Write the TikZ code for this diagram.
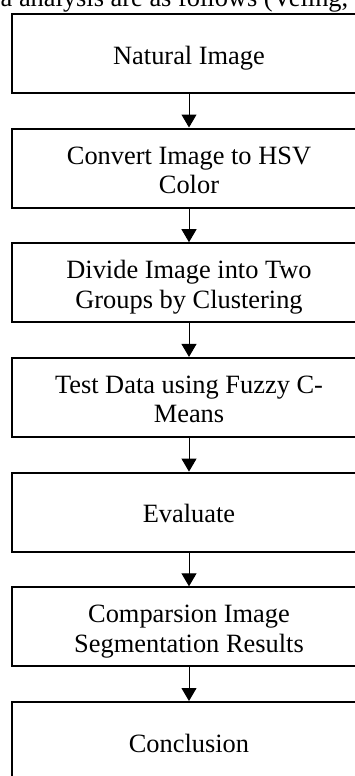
\documentclass[tikz,border=0pt]{standalone}
\usepackage{fontspec}
\setmainfont{Liberation Serif}
\usetikzlibrary{arrows.meta}
\newcommand{\twolines}[2]{\begin{tabular}[t]{@{}c@{}}#1\\#2\end{tabular}}
\begin{document}
\begin{tikzpicture}[x=1pt,y=-1pt,
  stepbox/.style={draw=black, line width=2pt, rectangle, minimum width=355pt,
    minimum height=79pt, inner sep=0pt,
    font=\fontsize{26.4}{29.5}\selectfont},
  oneline/.style={stepbox, text height=21.4pt, text depth=0pt},
  twoline/.style={stepbox, text height=0pt, text depth=8pt},
  flow/.style={draw=black, line width=1pt, -{Triangle[width=15pt,length=13pt]}},
  hdrtext/.style={anchor=base west, inner sep=0pt, font=\fontsize{26.4}{29.5}\selectfont}]
\useasboundingbox (0,0) rectangle (355,776);
\clip (0,0) rectangle (355,776);
\fill[white] (0,0) rectangle (355,776);
\node[hdrtext] (hdr) at (0.5,7) {a analysis are as follows (Veling,};
\node[oneline] (n1) at (189,53.3) {Natural Image};
\node[twoline] (n2) at (189,168) {\twolines{Convert Image to HSV}{Color}};
\node[twoline] (n3) at (189,282.7) {\twolines{Divide Image into Two}{Groups by Clustering}};
\node[twoline] (n4) at (189,397.4) {\twolines{Test Data using Fuzzy C-}{Means}};
\node[oneline] (n5) at (189,512.1) {Evaluate};
\node[twoline] (n6) at (189,626.8) {\twolines{Comparsion Image}{Segmentation Results}};
\node[oneline] (n7) at (189,741.5) {Conclusion};
\draw[flow] (n1) -- (n2);
\draw[flow] (n2) -- (n3);
\draw[flow] (n3) -- (n4);
\draw[flow] (n4) -- (n5);
\draw[flow] (n5) -- (n6);
\draw[flow] (n6) -- (n7);
\end{tikzpicture}
\end{document}
